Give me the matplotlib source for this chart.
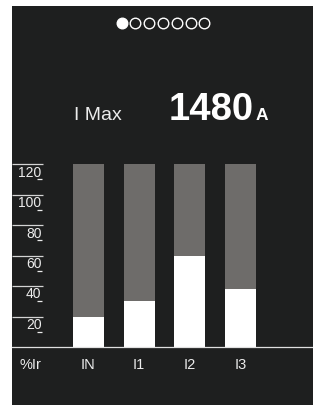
import matplotlib
matplotlib.use("Agg")
import matplotlib.pyplot as plt
from matplotlib.patches import Rectangle
from matplotlib.lines import Line2D

# ---- data ----
categories = ["IN", "I1", "I2", "I3"]
values = [20, 30, 60, 38]          # %Ir
scale_max = 120
tick_values = [20, 40, 60, 80, 100, 120]
tick_labels = ["20", "40", "60", "80", "100", "120"]
title_label = "I Max"
max_value = "1480"
max_unit = "A"
unit_label = "%Ir"
page_count = 7
page_active = 0

W, H = 313, 405
BG = "#1e1f1f"
GRAY = "#6e6c6a"
FG = "#ececec"
FONT = "Liberation Sans"

fig = plt.figure(figsize=(W / 100, H / 100), dpi=100, facecolor="white")

def fx(px):
    return px / W

def fy(py):
    return 1 - py / H

# dark panel
fig.add_artist(Rectangle((fx(12), 0), 1 - fx(12), fy(6), transform=fig.transFigure,
                         facecolor=BG, edgecolor="none", zorder=0))

# page dots
x0, dx = 121.5, 13.83
for i in range(page_count):
    filled = i == page_active
    fig.add_artist(Line2D([fx(x0 + i * dx)], [fy(22.7)], transform=fig.transFigure,
                          marker="o", markersize=7.6,
                          markerfacecolor="white" if filled else "none",
                          markeredgecolor="white", markeredgewidth=1.0, linestyle="none"))

# headline
fig.text(fx(73.5), fy(120), title_label, color=FG, fontsize=14, family=FONT,
         ha="left", va="baseline")
fig.text(fx(169), fy(120), max_value, color="white", fontsize=27.5, family=FONT,
         fontweight="bold", ha="left", va="baseline")
fig.text(fx(256), fy(120), max_unit, color="white", fontsize=12.5, family=FONT,
         fontweight="bold", ha="left", va="baseline")

# bar axes
y_bottom, y_top = 347, 164
ax = fig.add_axes([fx(12), fy(y_bottom), 1 - fx(12), (y_bottom - y_top) / H])
ax.set_facecolor("none")
spacing = 50.7
c0 = 88.5
xl = (12 - c0) / spacing
xr = (313 - c0) / spacing
ax.set_xlim(xl, xr)
ax.set_ylim(0, scale_max)
for s in ax.spines.values():
    s.set_visible(False)
ax.set_xticks([])
ax.set_yticks([])

pos = list(range(len(categories)))
bw = 31 / spacing
ax.bar(pos, [scale_max] * len(pos), width=bw, color=GRAY, zorder=1)
ax.bar(pos, values, width=bw, color="white", zorder=2)
ax.axhline(0, color="#e0e0e0", lw=0.9, zorder=3, clip_on=False)

# y ticks (left scale)
px_per_unit = (y_bottom - y_top) / scale_max
tx0 = xl
tx1 = (43 - c0) / spacing
lab_x = (41.5 - c0) / spacing
d0 = (37.5 - c0) / spacing
d1 = (42.3 - c0) / spacing
for v, lab in zip(tick_values, tick_labels):
    ax.hlines(v, tx0, tx1, color="#d4d4d4", lw=0.9, clip_on=False)
    ax.text(lab_x, v - 8.5 / px_per_unit, lab, color=FG, fontsize=10, family=FONT,
            ha="right", va="center", clip_on=False)
    ax.hlines(v - 15.3 / px_per_unit, d0, d1, color=FG, lw=0.9, clip_on=False)

# category labels
lab_y = -(365 - y_bottom) / px_per_unit
for p, c in zip(pos, categories):
    ax.text(p, lab_y, c, color=FG, fontsize=10.5, family=FONT, ha="center", va="center",
            clip_on=False)
ax.text((20 - c0) / spacing, lab_y, unit_label, color=FG, fontsize=10.5, family=FONT,
        ha="left", va="center", clip_on=False)

fig.savefig("out.png", dpi=100, facecolor="white")
